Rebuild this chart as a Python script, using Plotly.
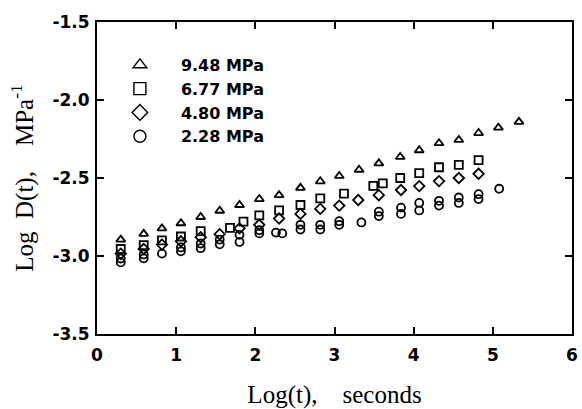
import plotly.graph_objects as go

# ---- data ----
x_948 = [0.30, 0.59, 0.82, 1.06, 1.31, 1.55, 1.80, 2.05, 2.30, 2.57, 2.82, 3.06, 3.31, 3.56, 3.83, 4.07, 4.32, 4.57, 4.82, 5.07, 5.33]
y_948 = [-2.895, -2.858, -2.823, -2.79, -2.75, -2.71, -2.673, -2.635, -2.61, -2.563, -2.521, -2.487, -2.447, -2.406, -2.365, -2.322, -2.277, -2.256, -2.212, -2.177, -2.14]

x_677 = [0.30, 0.59, 0.82, 1.06, 1.31, 1.68, 1.85, 2.05, 2.30, 2.57, 2.82, 3.12, 3.49, 3.61, 3.83, 4.07, 4.32, 4.57, 4.82]
y_677 = [-2.955, -2.93, -2.90, -2.875, -2.84, -2.82, -2.78, -2.74, -2.708, -2.673, -2.631, -2.60, -2.55, -2.535, -2.50, -2.469, -2.431, -2.416, -2.385]

x_480 = [0.30, 0.59, 0.82, 1.06, 1.31, 1.55, 1.80, 2.05, 2.30, 2.57, 2.82, 3.06, 3.30, 3.56, 3.84, 4.07, 4.32, 4.57, 4.82]
y_480 = [-2.985, -2.955, -2.927, -2.906, -2.88, -2.86, -2.823, -2.80, -2.76, -2.73, -2.698, -2.677, -2.641, -2.61, -2.577, -2.552, -2.52, -2.50, -2.473]

x_228 = [0.30, 0.30, 0.59, 0.59, 0.82, 1.06, 1.06, 1.31, 1.31, 1.55, 1.55, 1.80, 1.80, 2.05, 2.05,
         2.26, 2.34, 2.57, 2.57, 2.82, 2.82, 3.06, 3.06, 3.34, 3.56, 3.56, 3.84, 3.84, 4.07, 4.07,
         4.32, 4.32, 4.57, 4.57, 4.82, 4.82, 5.08]
y_228 = [-3.016, -3.041, -2.99, -3.015, -2.985, -2.945, -2.97, -2.92, -2.95, -2.895, -2.925, -2.864, -2.91,
         -2.835, -2.855, -2.85, -2.855, -2.80, -2.83, -2.80, -2.83, -2.777, -2.80, -2.785, -2.716, -2.744,
         -2.69, -2.73, -2.66, -2.708, -2.646, -2.677, -2.625, -2.66, -2.604, -2.635, -2.569]

series_names = ["9.48 MPa", "6.77 MPa", "4.80 MPa", "2.28 MPa"]
series_symbols = ["triangle-up-open", "square-open", "diamond-open", "circle-open"]
series_x = [x_948, x_677, x_480, x_228]
series_y = [y_948, y_677, y_480, y_228]

x_ticks = [0, 1, 2, 3, 4, 5, 6]
y_ticks = [-3.5, -3.0, -2.5, -2.0, -1.5]
y_ticktext = ["-3.5", "-3.0", "-2.5", "-2.0", "-1.5"]

SANS = "DejaVu Sans, Arial, sans-serif"
SERIF = "Liberation Serif, Times New Roman, serif"

fig = go.Figure()

# data marks
for name, sym, xs, ys in zip(series_names, series_symbols, series_x, series_y):
    fig.add_trace(go.Scatter(
        x=xs, y=ys, mode="markers", name=name, showlegend=False,
        marker=dict(symbol=sym, size=8, color="black", line=dict(color="black", width=1.8)),
    ))

# legend entries (larger symbols, as in the reference key)
for name, sym in zip(series_names, series_symbols):
    fig.add_trace(go.Scatter(
        x=[None], y=[None], mode="markers", name=name, showlegend=True,
        marker=dict(symbol=sym, size=12, color="black", line=dict(color="black", width=1.4)),
    ))

fig.update_layout(
    width=582, height=409,
    margin=dict(l=97, r=4, t=22, b=67),
    paper_bgcolor="white", plot_bgcolor="white",
    font=dict(family=SANS, size=17, color="black"),
    showlegend=True,
    legend=dict(
        x=0.004, y=0.917, xanchor="left", yanchor="top",
        bgcolor="rgba(0,0,0,0)", borderwidth=0,
        font=dict(family=SANS, size=16, color="black", weight="bold"),
        itemwidth=72, tracegroupgap=0,
    ),
)

fig.update_xaxes(
    range=[0, 6], tickmode="array", tickvals=x_ticks,
    ticks="inside", ticklen=7, tickwidth=1.5, tickcolor="black",
    showline=True, linewidth=2, linecolor="black", mirror="ticks",
    showgrid=False, zeroline=False,
    ticklabelstandoff=5,
    tickfont=dict(family=SANS, size=17, color="black", weight="bold"),
    title=dict(text="Log(t),&nbsp;&nbsp;&nbsp;&nbsp;seconds",
               font=dict(family=SERIF, size=25, color="black"),
               standoff=22),
)
fig.update_yaxes(
    range=[-3.5, -1.5], tickmode="array", tickvals=y_ticks, ticktext=y_ticktext,
    ticks="inside", ticklen=7, tickwidth=1.5, tickcolor="black",
    showline=True, linewidth=2, linecolor="black", mirror="ticks",
    showgrid=False, zeroline=False,
    ticklabelstandoff=2,
    tickfont=dict(family=SANS, size=17, color="black", weight="bold"),
    title=dict(text="Log&nbsp;&nbsp;D(t),&nbsp;&nbsp;&nbsp;&nbsp;MPa<sup>-1</sup>",
               font=dict(family=SERIF, size=25, color="black"),
               standoff=12),
)

fig.write_html("out.html")
